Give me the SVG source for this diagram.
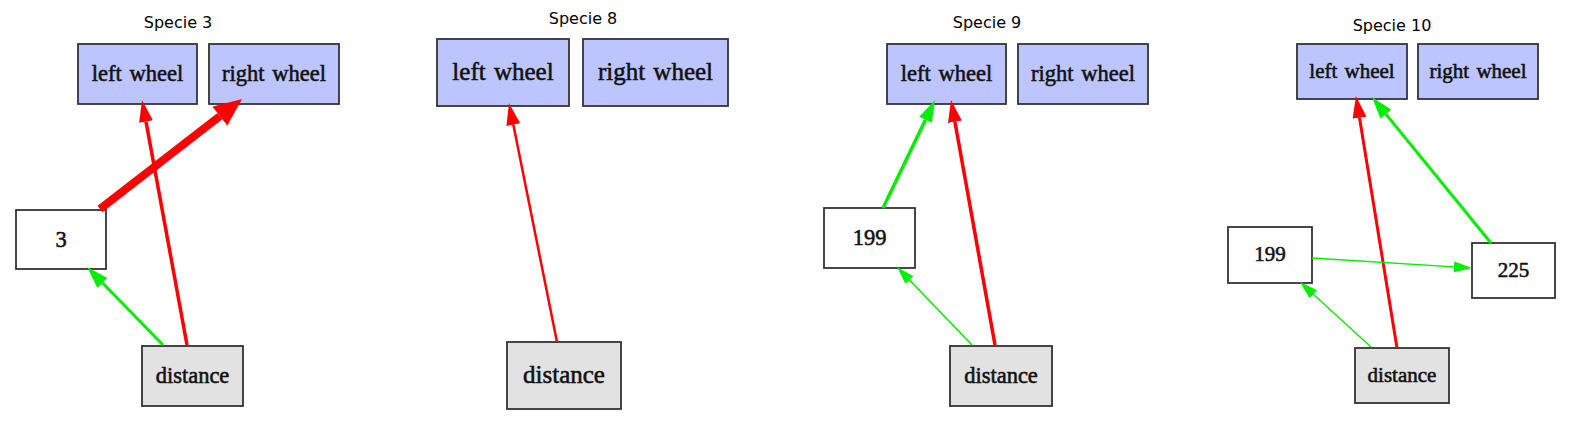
<svg xmlns="http://www.w3.org/2000/svg" width="1570" height="427" viewBox="0 0 1570 427">
<style>
.title{font-family:"DejaVu Sans",sans-serif;font-size:16px;fill:#000;text-anchor:middle}
.wheel{fill:#bcc5fd;stroke:#333;stroke-width:1.8}
.hid{fill:#fff;stroke:#333;stroke-width:1.8}
.inp{fill:#e2e2e2;stroke:#333;stroke-width:1.8}
.lbl{font-family:"Liberation Serif","Times New Roman",serif;fill:#111;text-anchor:middle;stroke:#111;stroke-width:0.55;word-spacing:2px}
.s22{font-size:22.5px}.s24{font-size:25px}.s20{font-size:21px}
.r{stroke:#ff0000;fill:none;stroke-linecap:butt}
.g{stroke:#00ee00;fill:none;stroke-linecap:butt}
</style>
<defs>
<marker id="arrR" markerUnits="userSpaceOnUse" viewBox="0 -7 22 14" markerWidth="22" markerHeight="14" refX="0" refY="0" orient="auto"><path d="M0,-7 L22,0 L0,7 Z" fill="#ff0000"/></marker>
<marker id="arrRbig" markerUnits="userSpaceOnUse" viewBox="0 -12 28 24" markerWidth="28" markerHeight="24" refX="0" refY="0" orient="auto"><path d="M0,-12 L28,0 L0,12 Z" fill="#ff0000"/></marker>
<marker id="arrG" markerUnits="userSpaceOnUse" viewBox="0 -7 22 14" markerWidth="22" markerHeight="14" refX="0" refY="0" orient="auto"><path d="M0,-7 L22,0 L0,7 Z" fill="#00ee00"/></marker>
<marker id="arrGs" markerUnits="userSpaceOnUse" viewBox="0 -5.5 18 11" markerWidth="18" markerHeight="11" refX="0" refY="0" orient="auto"><path d="M0,-5.5 L18,0 L0,5.5 Z" fill="#00ee00"/></marker>
</defs>
<rect width="1570" height="427" fill="#fff"/>
<g id="titles">
<text class="title" x="178" y="28">Specie 3</text>
<text class="title" x="583" y="24">Specie 8</text>
<text class="title" x="987" y="28">Specie 9</text>
<text class="title" x="1392" y="31">Specie 10</text>
</g>
<!-- Panel 1 -->
<g id="s3_left_wheel"><rect class="wheel" x="78" y="44" width="119" height="60"/><text class="lbl s22" x="137.5" y="81">left wheel</text></g>
<g id="s3_right_wheel"><rect class="wheel" x="209" y="44" width="130" height="60"/><text class="lbl s22" x="274" y="81">right wheel</text></g>
<g id="s3_n3"><rect class="hid" x="16" y="210" width="90" height="59"/><text class="lbl s22" x="61" y="247">3</text></g>
<g id="s3_distance"><rect class="inp" x="142" y="346" width="101" height="60"/><text class="lbl s22" x="192.5" y="383">distance</text></g>
<!-- Panel 2 -->
<g id="s8_left_wheel"><rect class="wheel" x="437" y="39" width="132" height="67"/><text class="lbl s24" x="503" y="80">left wheel</text></g>
<g id="s8_right_wheel"><rect class="wheel" x="583" y="39" width="145" height="67"/><text class="lbl s24" x="655.5" y="80">right wheel</text></g>
<g id="s8_distance"><rect class="inp" x="507" y="342" width="114" height="67"/><text class="lbl s24" x="564" y="383">distance</text></g>
<!-- Panel 3 -->
<g id="s9_left_wheel"><rect class="wheel" x="887" y="44" width="119" height="60"/><text class="lbl s22" x="946.5" y="81">left wheel</text></g>
<g id="s9_right_wheel"><rect class="wheel" x="1018" y="44" width="130" height="60"/><text class="lbl s22" x="1083" y="81">right wheel</text></g>
<g id="s9_n199"><rect class="hid" x="824" y="208" width="91" height="60"/><text class="lbl s22" x="869.5" y="245">199</text></g>
<g id="s9_distance"><rect class="inp" x="950" y="346" width="102" height="60"/><text class="lbl s22" x="1001" y="383">distance</text></g>
<!-- Panel 4 -->
<g id="s10_left_wheel"><rect class="wheel" x="1297" y="44" width="110" height="55"/><text class="lbl s20" x="1352" y="78">left wheel</text></g>
<g id="s10_right_wheel"><rect class="wheel" x="1418" y="44" width="120" height="55"/><text class="lbl s20" x="1478" y="78">right wheel</text></g>
<g id="s10_n199"><rect class="hid" x="1228" y="227" width="84" height="56"/><text class="lbl s20" x="1270" y="261">199</text></g>
<g id="s10_n225"><rect class="hid" x="1472" y="243" width="83" height="55"/><text class="lbl s20" x="1513.5" y="277">225</text></g>
<g id="s10_distance"><rect class="inp" x="1355" y="348" width="94" height="55"/><text class="lbl s20" x="1402" y="382">distance</text></g>
<g id="connectors">
<line class="r" x1="187" y1="345" x2="146" y2="121.6" stroke-width="3.5" marker-end="url(#arrR)"/>
<line class="r" x1="100" y1="209" x2="219.9" y2="116.2" stroke-width="8" marker-end="url(#arrRbig)"/>
<line class="g" x1="163" y1="345" x2="102.4" y2="282.8" stroke-width="3" marker-end="url(#arrG)"/>
<line class="r" x1="557" y1="342" x2="513.3" y2="124.6" stroke-width="2.5" marker-end="url(#arrR)"/>
<line class="g" x1="883" y1="208" x2="925.5" y2="119.8" stroke-width="3.5" marker-end="url(#arrG)"/>
<line class="r" x1="995" y1="345" x2="954.9" y2="121.7" stroke-width="3.5" marker-end="url(#arrR)"/>
<line class="g" x1="972" y1="345" x2="909.5" y2="280" stroke-width="1.5" marker-end="url(#arrGs)"/>
<line class="r" x1="1397" y1="348" x2="1359.5" y2="117.7" stroke-width="3" marker-end="url(#arrR)"/>
<line class="g" x1="1491" y1="243" x2="1385.9" y2="114.1" stroke-width="3" marker-end="url(#arrG)"/>
<line class="g" x1="1312" y1="258" x2="1454" y2="266.9" stroke-width="1.3" marker-end="url(#arrGs)"/>
<line class="g" x1="1371" y1="347" x2="1313.3" y2="294.2" stroke-width="1.3" marker-end="url(#arrGs)"/>
</g>
</svg>
